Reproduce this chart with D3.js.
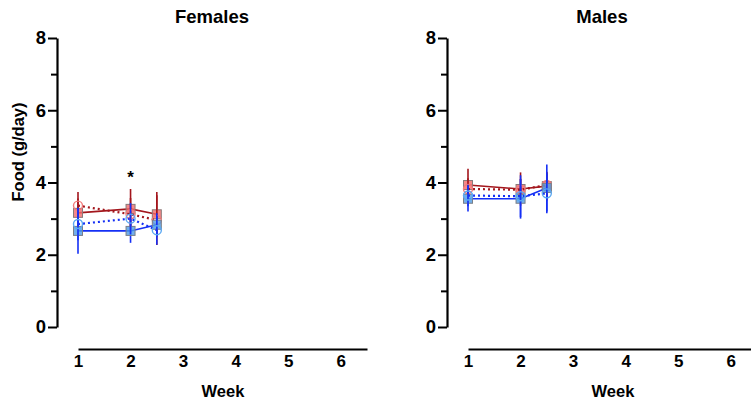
<!DOCTYPE html>
<html>
<head>
<meta charset="utf-8">
<script src="https://cdn.jsdelivr.net/npm/d3@7"></script>
<style>
  body { margin: 0; background: #fff; }
  svg { display: block; font-family: "Liberation Sans", Arial, Helvetica, sans-serif; font-weight: bold; }
</style>
</head>
<body>
<svg id="chart" width="751" height="405"></svg>
<script>
// weeks measured so far
var weeks = [1, 2, 2.5];
var xTicks = [1, 2, 3, 4, 5, 6];
var yMajor = [0, 2, 4, 6, 8];
var yMinor = [1, 3, 5, 7];
var panelTitles = ["Females", "Males"];

// females: mean and error per series
var femRedSq   = [3.16, 3.27, 3.12], femRedSqErr   = [0.40, 0.55, 0.62];
var femRedCi   = [3.36, 3.12, 2.96], femRedCiErr   = [0.38, 0.45, 0.69];
var femBlueSq  = [2.66, 2.66, 2.83], femBlueSqErr  = [0.63, 0.33, 0.32];
var femBlueCi  = [2.85, 3.00, 2.68], femBlueCiErr  = [0.45, 0.43, 0.40];

// males
var malRedSq   = [3.93, 3.82, 3.90], malRedSqErr   = [0.45, 0.46, 0.40];
var malRedCi   = [3.82, 3.80, 3.93], malRedCiErr   = [0.30, 0.30, 0.35];
var malBlueSq  = [3.55, 3.55, 3.85], malBlueSqErr  = [0.35, 0.55, 0.65];
var malBlueCi  = [3.64, 3.62, 3.70], malBlueCiErr  = [0.30, 0.58, 0.55];

// significance marks (week, label) for females
var femStars = [{week: 2, text: "*"}];

var seriesStyle = [
    {line: "#a3161c", dash: null,  shape: "square", fill: "#f26a6a", stroke: "#8a7a7a"},
    {line: "#a3161c", dash: "2,3", shape: "circle", fill: "none",    stroke: "#f27a7a"},
    {line: "#1530f5", dash: null,  shape: "square", fill: "#4d9be6", stroke: "#7a7f88"},
    {line: "#1530f5", dash: "2,3", shape: "circle", fill: "none",    stroke: "#5aa8f2"}
];

var panels = [
    {title: panelTitles[0], dx: 0,
     series: [[femRedSq, femRedSqErr], [femRedCi, femRedCiErr], [femBlueSq, femBlueSqErr], [femBlueCi, femBlueCiErr]],
     stars: femStars, ylabel: true},
    {title: panelTitles[1], dx: 390,
     series: [[malRedSq, malRedSqErr], [malRedCi, malRedCiErr], [malBlueSq, malBlueSqErr], [malBlueCi, malBlueCiErr]],
     stars: [], ylabel: false}
];

var svg = d3.select("#chart");

var x = d3.scaleLinear().domain([1, 6.5]).range([78, 367]);
var y = d3.scaleLinear().domain([0, 8]).range([327, 38]);

panels.forEach(function(p) {
    var g = svg.append("g").attr("transform", "translate(" + p.dx + ",0)");

    // y axis, major ticks with labels
    var ya = g.append("g")
        .attr("transform", "translate(57,0)")
        .call(d3.axisLeft(y).tickValues(yMajor).tickSize(9).tickSizeOuter(0).tickPadding(2));
    ya.select(".domain").attr("stroke-width", 2.2);
    ya.selectAll(".tick line").attr("stroke-width", 2);
    ya.selectAll(".tick text").attr("font-size", 18.5).attr("font-weight", "bold")
        .attr("font-family", "Liberation Sans, Arial, sans-serif").attr("fill", "#000");

    // minor ticks
    var ym = g.append("g")
        .attr("transform", "translate(57,0)")
        .call(d3.axisLeft(y).tickValues(yMinor).tickSize(6).tickFormat(""));
    ym.select(".domain").remove();
    ym.selectAll(".tick line").attr("stroke-width", 2);

    // x axis, detached below
    var xa = g.append("g")
        .attr("transform", "translate(0,349)")
        .call(d3.axisBottom(x).tickValues(xTicks).tickFormat(d3.format("d"))
            .tickSize(0).tickSizeOuter(0).tickPadding(6));
    xa.select(".domain").attr("stroke-width", 2.2);
    xa.selectAll(".tick text").attr("font-size", 17).attr("font-weight", "bold")
        .attr("font-family", "Liberation Sans, Arial, sans-serif").attr("fill", "#000");

    g.append("text")
        .attr("x", 212).attr("y", 23)
        .attr("text-anchor", "middle")
        .attr("font-size", 18.5)
        .text(p.title);

    g.append("text")
        .attr("x", 223).attr("y", 397)
        .attr("text-anchor", "middle")
        .attr("font-size", 16.5)
        .text("Week");

    if (p.ylabel) {
        g.append("text")
            .attr("transform", "translate(24,152) rotate(-90)")
            .attr("text-anchor", "middle")
            .attr("font-size", 16.5)
            .text("Food (g/day)");
    }

    p.series.forEach(function(s, i) {
        var st = seriesStyle[i];
        var pts = weeks.map(function(w, j) { return {w: w, m: s[0][j], e: s[1][j]}; });
        var sg = g.append("g");

        // error bars
        sg.selectAll("line.err").data(pts).enter().append("line")
            .attr("x1", function(d) { return x(d.w); })
            .attr("x2", function(d) { return x(d.w); })
            .attr("y1", function(d) { return y(d.m - d.e); })
            .attr("y2", function(d) { return y(d.m + d.e); })
            .attr("stroke", st.line)
            .attr("stroke-width", 1.6);

        var line = d3.line().x(function(d) { return x(d.w); }).y(function(d) { return y(d.m); });
        sg.append("path")
            .datum(pts)
            .attr("d", line)
            .attr("fill", "none")
            .attr("stroke", st.line)
            .attr("stroke-width", st.dash ? 2.2 : 1.6)
            .attr("stroke-dasharray", st.dash);

        if (st.shape == "square") {
            sg.selectAll("rect").data(pts).enter().append("rect")
                .attr("x", function(d) { return x(d.w) - 4.5; })
                .attr("y", function(d) { return y(d.m) - 4.5; })
                .attr("width", 9).attr("height", 9)
                .attr("fill", st.fill).attr("fill-opacity", 0.8)
                .attr("stroke", st.stroke).attr("stroke-width", 1);
        } else {
            sg.selectAll("circle").data(pts).enter().append("circle")
                .attr("cx", function(d) { return x(d.w); })
                .attr("cy", function(d) { return y(d.m); })
                .attr("r", 4.5)
                .attr("fill", "none")
                .attr("stroke", st.stroke).attr("stroke-width", 1.4);
        }
    });

    g.selectAll("text.star").data(p.stars).enter().append("text")
        .attr("class", "star")
        .attr("x", function(d) { return x(d.week); })
        .attr("y", 183)
        .attr("text-anchor", "middle")
        .attr("font-size", 17)
        .text(function(d) { return d.text; });
});
</script>
</body>
</html>
